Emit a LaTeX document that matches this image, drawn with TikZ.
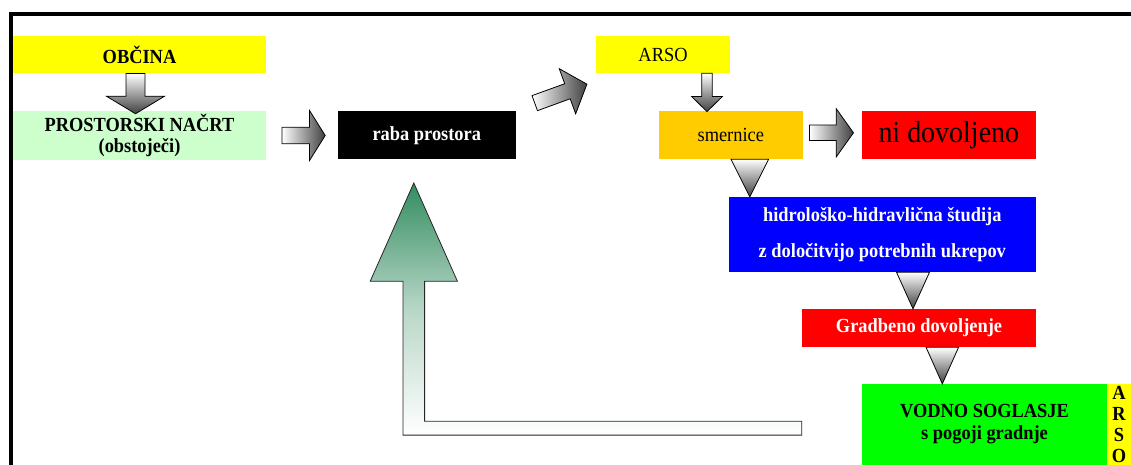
\documentclass[tikz,border=0pt]{standalone}
\usepackage{fontspec}
\setmainfont[FakeStretch=0.92]{Liberation Serif}
\usetikzlibrary{calc}
\definecolor{ObYellow}{RGB}{255, 255, 0}
\definecolor{PnGreen}{RGB}{204, 255, 204}
\definecolor{SmOrange}{RGB}{255, 204, 0}
\definecolor{VsGreen}{RGB}{0, 255, 0}
\definecolor{BackGreen}{RGB}{51, 140, 96}
% block arrow: style, start, angle, length, half shaft, half head, head length
\newcommand{\blkarrow}[7]{%
  \draw[blkarr, #1, shift={#2}, rotate=#3]
    (0,-#5) -- ({#4-#7},-#5) -- ({#4-#7},-#6) -- (#4,0)
    -- ({#4-#7},#6) -- ({#4-#7},#5) -- (0,#5) -- cycle;}
% down triangle: top centre, node below, half width
\newcommand{\downtri}[3]{%
  \draw[tri] ($(#1)+(-#3,0)$) -- ($(#1)+(#3,0)$) -- (#1 |- #2) -- cycle;}

\begin{document}
\begin{tikzpicture}[
  x=1pt, y=-1pt,
  every node/.style={font=\fontsize{20}{21}\selectfont},
  fillbox/.style={inner sep=0pt, align=center},
  blkarr/.style={draw=black, line width=0.8pt, line join=miter},
  hshade/.style={left color=white, right color=black!75},
  vshade/.style={top color=white, bottom color=black!75},
  tri/.style={draw=black, line width=0.8pt, top color=white, bottom color=black!75},
  backarr/.style={draw=black!85, line width=0.8pt, top color=BackGreen,
                  bottom color=white, middle color=BackGreen!35}
]
  \useasboundingbox (0,0) rectangle (1131,465);

  %% frame
  \draw[line width=4.2pt] (10.7,465) -- (10.7,14) -- (1131,14);

  %% Row 1
  \node[fillbox, fill=ObYellow, minimum width=253pt, minimum height=37.3pt, font=\fontsize{20}{21}\selectfont\bfseries]
    (obcina) at (139.5,54.7) {OBČINA};
  \node[fillbox, fill=ObYellow, minimum width=134pt, minimum height=37pt]
    (arso) at (663,54.5) {ARSO};

  %% Row 2
  \node[fillbox, fill=PnGreen, minimum width=253pt, minimum height=48.3pt, font=\fontsize{20}{20.5}\selectfont\bfseries]
    (prostor) at (139.5,135.5) {PROSTORSKI NAČRT\\(obstoječi)};
  \node[fillbox, fill=black, text=white, minimum width=178.5pt, minimum height=48.3pt, font=\fontsize{20}{21}\selectfont\bfseries]
    (raba) at (426.8,135.2) {raba prostora};
  \node[fillbox, fill=SmOrange, minimum width=143.5pt, minimum height=48pt]
    (smernice) at (730.8,135) {smernice};
  \node[fillbox, fill=red, minimum width=173.6pt, minimum height=48pt, font=\fontsize{30.4}{32}\selectfont]
    (nidov) at (948.8,135) {ni dovoljeno};

  %% Right column
  \node[fillbox, fill=blue, text=white, minimum width=306.6pt, minimum height=75pt, font=\fontsize{20}{36}\selectfont\bfseries]
    (studija) at (882.3,234.5) {hidrološko-hidravlična študija\\z določitvijo potrebnih ukrepov};
  \node[fillbox, fill=red, text=white, minimum width=234pt, minimum height=38pt, font=\fontsize{20}{21}\selectfont\bfseries]
    (gradbeno) at (919,328) {Gradbeno dovoljenje};
  \node[fillbox, fill=VsGreen, minimum width=245pt, minimum height=81pt, font=\fontsize{20}{22}\selectfont\bfseries]
    (vodno) at (984.5,424.5) {VODNO SOGLASJE\\s pogoji gradnje};
  \node[fillbox, fill=ObYellow, minimum width=24pt, minimum height=81pt, font=\fontsize{20}{20.7}\selectfont\bfseries]
    (arsostrip) at (1119,424.5) {A\\R\\S\\O};

  %% Block arrows
  \blkarrow{vshade}{($(obcina.south)+(-4,0)$)}{-90}{40.2}{9.5}{29}{17.5}
  \blkarrow{hshade}{($(prostor.east)+(15.7,0)$)}{0}{43.3}{8.3}{25}{15.7}
  \blkarrow{hshade}{($(raba.north east)+(18.5,-7.7)$)}{20}{55.5}{8}{24}{20.7}
  \blkarrow{vshade}{($(arso.south)+(44,0)$)}{-90}{38.4}{5.3}{15.3}{15}
  \blkarrow{hshade}{($(smernice.east)+(6.7,-2.2)$)}{0}{44}{7.8}{24.2}{17.3}

  %% Triangles
  \coordinate (t1) at ($(smernice.south)+(19,0)$);
  \coordinate (t2) at ($(studija.south)+(30.7,0)$);
  \coordinate (t3) at ($(gradbeno.south)+(23.3,0)$);
  \downtri{t1}{studija.north}{18.8}
  \downtri{t2}{gradbeno.north}{16.5}
  \downtri{t3}{vodno.north}{16.3}

  %% Return arrow
  \coordinate (gtip) at ($(raba.south)+(-13,23.4)$);
  \coordinate (gend) at ($(vodno.west)+(-60,3.7)$);
  \draw[backarr] ($(gend)+(0,-6.9)$) -- ($(gtip |- gend)+(10.8,-6.9)$)
    -- ($(gtip)+(10.8,98.3)$) -- ($(gtip)+(43.6,98.3)$) -- (gtip)
    -- ($(gtip)+(-43.6,98.3)$) -- ($(gtip)+(-10.8,98.3)$)
    -- ($(gtip |- gend)+(-10.8,6.9)$) -- ($(gend)+(0,6.9)$) -- cycle;
\end{tikzpicture}
\end{document}
